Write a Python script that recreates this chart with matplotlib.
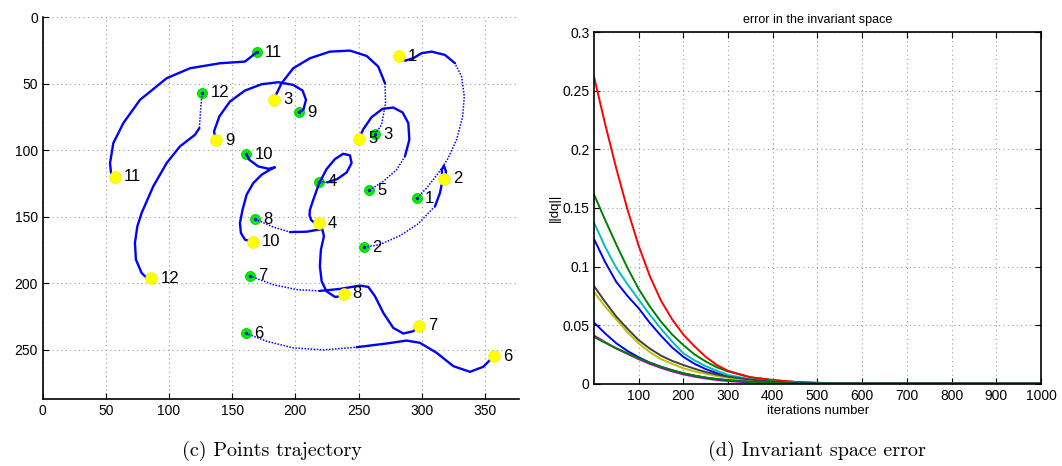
import matplotlib
matplotlib.use("Agg")
import matplotlib.pyplot as plt

# ---------------- data: left panel (point trajectories) ----------------
point_ids = ["1", "2", "3", "4", "5", "6", "7", "8", "9", "10", "11", "12"]

traj_x = [
    [296.2, 303.9, 313.1, 320.2, 327.6, 332.4, 333.7, 331.6, 326.3, 318.4, 307.8, 299.9, 293.3, 286.7, 282.0],
    [254.5, 266.9, 282.8, 297.3, 307.8, 310.5, 314.4, 316.6, 315.8, 317.6, 319.2, 318.4, 317.6],
    [263.0, 268.2, 271.4, 270.9, 265.6, 256.4, 243.2, 227.4, 211.5, 198.3, 189.1, 184.6, 183.0],
    [218.9, 225.2, 233.2, 240.6, 244.5, 243.2, 237.9, 231.3, 224.7, 218.9, 214.2, 211.5, 211.2, 212.5, 215.5, 218.4],
    [258.5, 269.6, 280.1, 286.7, 290.2, 289.4, 284.9, 277.5, 269.0, 260.3, 253.8, 251.1, 250.6],
    [160.7, 177.2, 198.3, 222.1, 248.5, 272.2, 288.0, 298.6, 311.8, 325.0, 338.2, 348.7, 354.5, 357.0],
    [163.8, 182.5, 201.0, 219.4, 235.3, 251.1, 257.7, 263.0, 269.6, 277.5, 285.4, 293.3, 298.0],
    [168.0, 182.5, 195.7, 209.0, 221.3, 222.6, 220.2, 219.4, 220.8, 224.7, 231.3, 236.1, 238.2],
    [202.6, 206.3, 208.4, 205.7, 198.3, 186.5, 173.3, 160.1, 148.2, 139.8, 135.6, 137.1],
    [161.1, 163.5, 170.6, 178.6, 183.8, 179.9, 173.3, 166.7, 161.4, 158.2, 156.1, 156.9, 160.1, 166.4],
    [169.4, 160.1, 140.3, 116.6, 98.1, 77.0, 63.8, 55.9, 53.3, 54.1, 57.2],
    [126.1, 125.0, 124.0, 120.5, 108.6, 98.1, 87.5, 78.3, 74.9, 73.0, 73.8, 78.3, 82.3, 86.0],
]
traj_y = [
    [136.0, 128.5, 117.3, 107.3, 92.3, 74.8, 59.8, 44.8, 34.7, 28.5, 26.0, 27.2, 31.0, 32.8, 29.3],
    [173.0, 171.0, 164.3, 155.3, 144.8, 142.3, 132.3, 122.3, 114.8, 111.8, 116.0, 122.3, 121.5],
    [88.0, 81.0, 64.75, 49.75, 37.25, 29.25, 25.25, 26.0, 31.0, 38.5, 49.75, 58.5, 62.0],
    [123.8, 124.25, 121.75, 116.75, 109.75, 104.0, 102.75, 106.75, 114.25, 124.75, 137.25, 145.0, 149.0, 152.5, 155.0, 155.0],
    [130.2, 123.5, 114.75, 104.75, 92.25, 79.75, 71.75, 68.0, 69.0, 75.25, 84.25, 89.75, 91.5],
    [237.6, 243.6, 248.6, 250.1, 248.1, 245.3, 243.1, 244.8, 252.3, 262.3, 266.6, 262.8, 257.3, 255.0],
    [194.5, 201.1, 204.8, 205.8, 204.3, 201.8, 202.8, 209.8, 222.3, 233.6, 237.8, 236.1, 232.0],
    [151.8, 157.8, 161.6, 161.3, 159.3, 164.8, 174.8, 187.3, 198.6, 206.1, 210.3, 209.8, 207.8],
    [71.5, 69.75, 62.25, 55.25, 51.0, 49.0, 50.5, 55.25, 63.5, 74.75, 86.0, 92.5],
    [103.0, 107.25, 112.25, 114.0, 113.0, 114.75, 118.5, 124.75, 133.5, 144.75, 154.8, 162.3, 167.3, 169.0],
    [26.5, 33.5, 34.75, 38.5, 46.0, 62.25, 79.75, 94.75, 109.75, 117.25, 120.0],
    [57.0, 69.75, 83.5, 88.5, 97.25, 109.75, 127.25, 147.25, 157.3, 169.8, 182.3, 192.3, 196.0, 196.3],
]
# waypoint index where the sparse (dotted) start of each path turns solid
solid_from = [8, 5, 3, 1, 3, 4, 3, 2, 0, 0, 0, 2]

# ---------------- data: right panel (error curves) ----------------
iterations = [1, 25, 50, 75, 100, 125, 150, 175, 200, 225, 250, 275, 300, 350, 400, 450, 500, 600, 800, 1000]
err_blue1 = [0.123, 0.104, 0.087, 0.075, 0.0645, 0.052, 0.041, 0.031, 0.023, 0.017, 0.0125, 0.009, 0.006, 0.003, 0.0013, 0.0005, 0.0002, 0.0, 0.0, 0.0]
err_green1 = [0.161, 0.140, 0.119, 0.099, 0.081, 0.066, 0.053, 0.042, 0.033, 0.025, 0.019, 0.014, 0.0105, 0.0055, 0.0032, 0.0015, 0.0007, 0.0002, 0.0, 0.0]
err_red = [0.261, 0.222, 0.184, 0.149, 0.118, 0.092, 0.071, 0.055, 0.042, 0.032, 0.023, 0.016, 0.011, 0.0055, 0.003, 0.0015, 0.0007, 0.0002, 0.0, 0.0]
err_cyan = [0.137, 0.117, 0.099, 0.085, 0.072, 0.059, 0.047, 0.036, 0.026, 0.020, 0.015, 0.011, 0.0075, 0.0038, 0.0018, 0.0008, 0.0003, 0.0001, 0.0, 0.0]
err_magenta = [0.041, 0.0355, 0.030, 0.0255, 0.021, 0.017, 0.0135, 0.0105, 0.008, 0.006, 0.0045, 0.0032, 0.0022, 0.001, 0.0004, 0.0001, 0.0, 0.0, 0.0, 0.0]
err_yellow = [0.078, 0.066, 0.055, 0.044, 0.0345, 0.027, 0.021, 0.017, 0.0132, 0.0105, 0.0085, 0.0066, 0.005, 0.0028, 0.0015, 0.0007, 0.0003, 0.0001, 0.0, 0.0]
err_gray = [0.083, 0.070, 0.0574, 0.047, 0.0373, 0.030, 0.024, 0.0195, 0.016, 0.0128, 0.010, 0.0078, 0.006, 0.0035, 0.0018, 0.0008, 0.0003, 0.0001, 0.0, 0.0]
err_blue2 = [0.052, 0.043, 0.0346, 0.028, 0.0226, 0.018, 0.0145, 0.0115, 0.0089, 0.0069, 0.0052, 0.004, 0.003, 0.0015, 0.0007, 0.0003, 0.0001, 0.0, 0.0, 0.0]
err_green2 = [0.0397, 0.035, 0.0303, 0.026, 0.0217, 0.018, 0.0145, 0.0115, 0.0089, 0.0069, 0.0052, 0.004, 0.003, 0.0015, 0.0007, 0.0003, 0.0001, 0.0, 0.0, 0.0]

error_series = [err_blue1, err_green1, err_red, err_cyan, err_magenta, err_yellow, err_gray, err_blue2, err_green2]
series_colors = ["#0000ff", "#008000", "#ff0000", "#00bfbf", "#bf00bf", "#bfbf00", "#404040", "#0000ff", "#008000"]

left_xticks = [0, 50, 100, 150, 200, 250, 300, 350]
left_yticks = [0, 50, 100, 150, 200, 250]
right_xticks = [100, 200, 300, 400, 500, 600, 700, 800, 900, 1000]
right_yticks = [0, 0.05, 0.1, 0.15, 0.2, 0.25, 0.3]
right_yticklabels = ["0", "0.05", "0.1", "0.15", "0.2", "0.25", "0.3"]

# ---------------- figure ----------------
plt.rcParams["font.family"] = ["Liberation Sans", "DejaVu Sans"]
fig = plt.figure(figsize=(10.62, 4.66), dpi=100)

grid_kw = dict(color="#9a9a9a", linestyle=(0, (1, 3)), linewidth=0.8)

# ----- left panel -----
axL = fig.add_axes([0.0402, 0.1438, 0.4485, 0.8197])
for i in range(len(traj_x)):
    k = solid_from[i]
    if k > 0:
        axL.plot(traj_x[i][:k + 1], traj_y[i][:k + 1], color="#0000ff",
                 linestyle=(0, (1, 1)), linewidth=1.1, zorder=3)
    axL.plot(traj_x[i][k:], traj_y[i][k:], color="#0000ff", linewidth=1.7,
             solid_capstyle="round", solid_joinstyle="round", zorder=3)

green_x = [t[0] for t in traj_x]
green_y = [t[0] for t in traj_y]
yellow_x = [t[-1] for t in traj_x]
yellow_y = [t[-1] for t in traj_y]
axL.plot(green_x, green_y, linestyle="none", marker="o", markersize=7.2,
         markerfacecolor="#00ee00", markeredgecolor="#00d000", markeredgewidth=0.6, zorder=2)
axL.plot(green_x, green_y, linestyle="none", marker="o", markersize=1.5,
         color="#0000ff", zorder=4)
axL.plot(yellow_x, yellow_y, linestyle="none", marker="o", markersize=8.5,
         markerfacecolor="#ffff00", markeredgecolor="#f0f000", markeredgewidth=0.5, zorder=5)
for i, lab in enumerate(point_ids):
    axL.annotate(lab, (green_x[i], green_y[i]), xytext=(6, 0), textcoords="offset points",
                 ha="left", va="center", fontsize=12, zorder=6)
    axL.annotate(lab, (yellow_x[i], yellow_y[i]), xytext=(6.5, 0), textcoords="offset points",
                 ha="left", va="center", fontsize=12, zorder=6)

axL.set_xlim(0, 377)
axL.set_ylim(287, 0)
axL.set_xticks(left_xticks)
axL.set_yticks(left_yticks)
axL.tick_params(direction="in", labelsize=10, length=4, width=0.8)
axL.spines["top"].set_visible(False)
axL.spines["right"].set_visible(False)
axL.spines["left"].set_linewidth(1.2)
axL.spines["bottom"].set_linewidth(1.2)
axL.grid(True, **grid_kw)
axL.set_axisbelow(True)

# ----- right panel -----
axR = fig.add_axes([0.5596, 0.1766, 0.4206, 0.7541])
for vals, col in zip(error_series, series_colors):
    axR.plot(iterations, vals, color=col, linewidth=1.4)
axR.set_xlim(1, 1000)
axR.set_ylim(0, 0.3)
axR.set_xticks(right_xticks)
axR.set_yticks(right_yticks)
axR.set_yticklabels(right_yticklabels)
axR.tick_params(direction="in", labelsize=10, length=4, width=0.8, top=True, right=True)
axR.grid(True, **grid_kw)
axR.set_axisbelow(True)
for sp in axR.spines.values():
    sp.set_linewidth(1.2)
axR.set_title("error in the invariant space", fontsize=9, pad=7)
axR.set_xlabel("iterations number", fontsize=9.5, labelpad=1.5)
axR.set_ylabel("||dq||", fontsize=9.5, labelpad=1)

# captions
fig.text(0.2565, 0.032, "(c) Points trajectory", ha="center", va="center",
         fontsize=14.5, family=["cmr10", "DejaVu Serif"])
fig.text(0.7695, 0.032, "(d) Invariant space error", ha="center", va="center",
         fontsize=14.5, family=["cmr10", "DejaVu Serif"])

fig.savefig("out.png", dpi=100)
